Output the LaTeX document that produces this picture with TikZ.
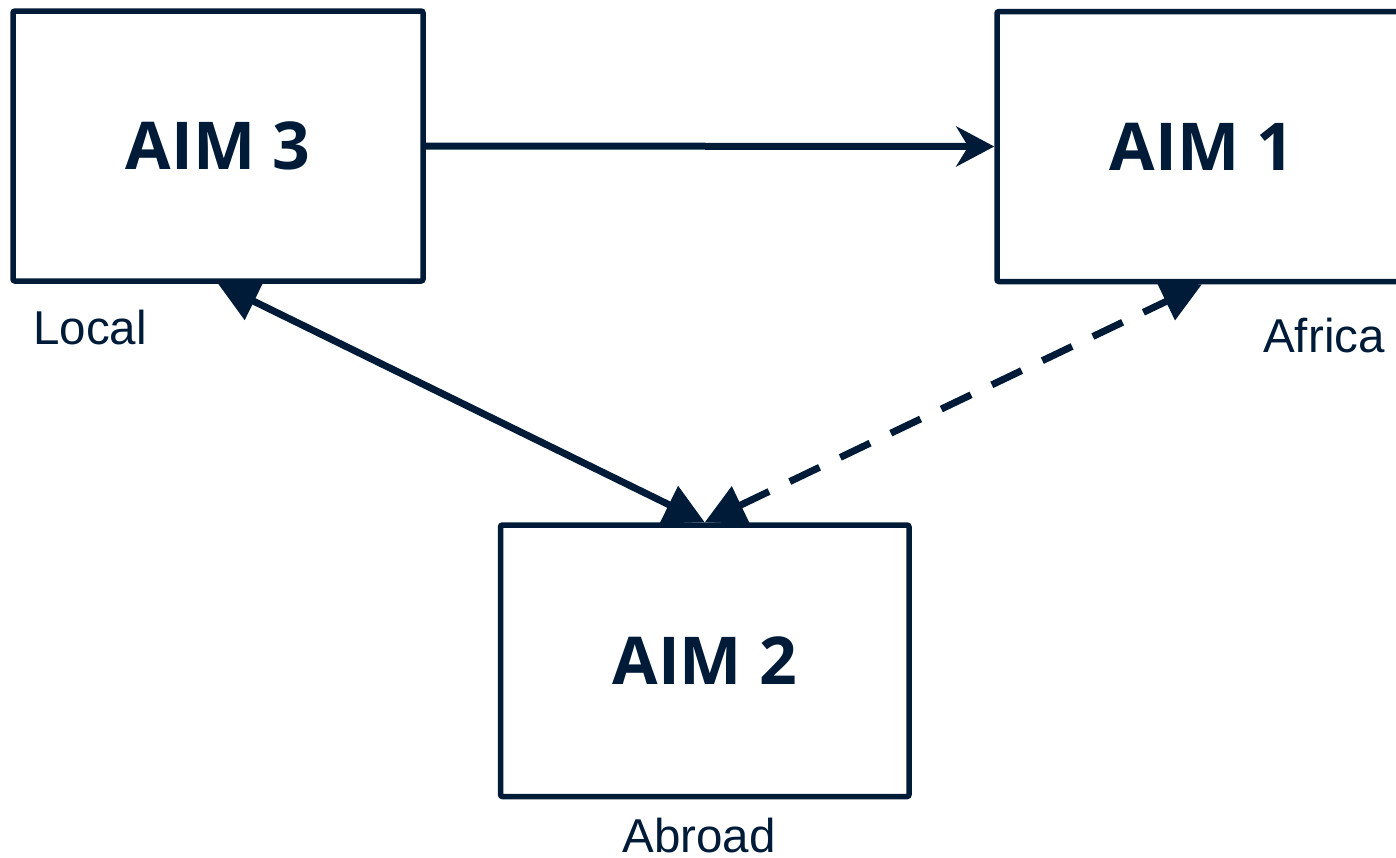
\documentclass[tikz,border=0pt]{standalone}
\usepackage{fontspec}
\setmainfont{Liberation Sans}
\newfontfamily\aimfont{Open Sans}
\usetikzlibrary{arrows.meta}
\definecolor{navy}{RGB}{0,27,56}
\begin{document}
\begin{tikzpicture}[x=0.5pt,y=-0.5pt,
  box/.style={draw=navy, line width=2.75pt, rectangle, rounded corners=1pt, fill=white,
    minimum width=205pt, minimum height=135pt, inner sep=0pt, text=navy,
    font=\aimfont\bfseries\fontsize{33}{33}\selectfont},
  lbl/.style={text=navy, font=\fontsize{23.75}{24}\selectfont, inner sep=0pt,
    text depth=0pt, anchor=base},
  conn/.style={draw=navy, line width=3.5pt},
  tri/.tip={Triangle[length=20pt,width=20pt]},
  stl/.tip={Stealth[length=19pt,width=20pt,inset=6pt]}]
\useasboundingbox (0,0) rectangle (1396,857);
\node[box] (a3) at (218,146) {AIM 3};
\node[box] (a1) at (1202,146.5) {AIM 1};
\node[box, minimum width=204.25pt, minimum height=135.75pt] (a2) at (704.75,660.75) {AIM 2};
\node[lbl] (l3) at (90,344) {Local};
\node[lbl] (l1) at (1324,352) {Africa};
\node[lbl] (l2) at (699,852) {Abroad};
\draw[conn, -stl] (a3.east) -- (a1.west);
\draw[conn, tri-tri] (a3.south) -- (a2.north);
\draw[conn, dash pattern=on 16.5pt off 11.5pt, tri-tri] (a2.north) -- (a1.south);
\end{tikzpicture}
\end{document}
